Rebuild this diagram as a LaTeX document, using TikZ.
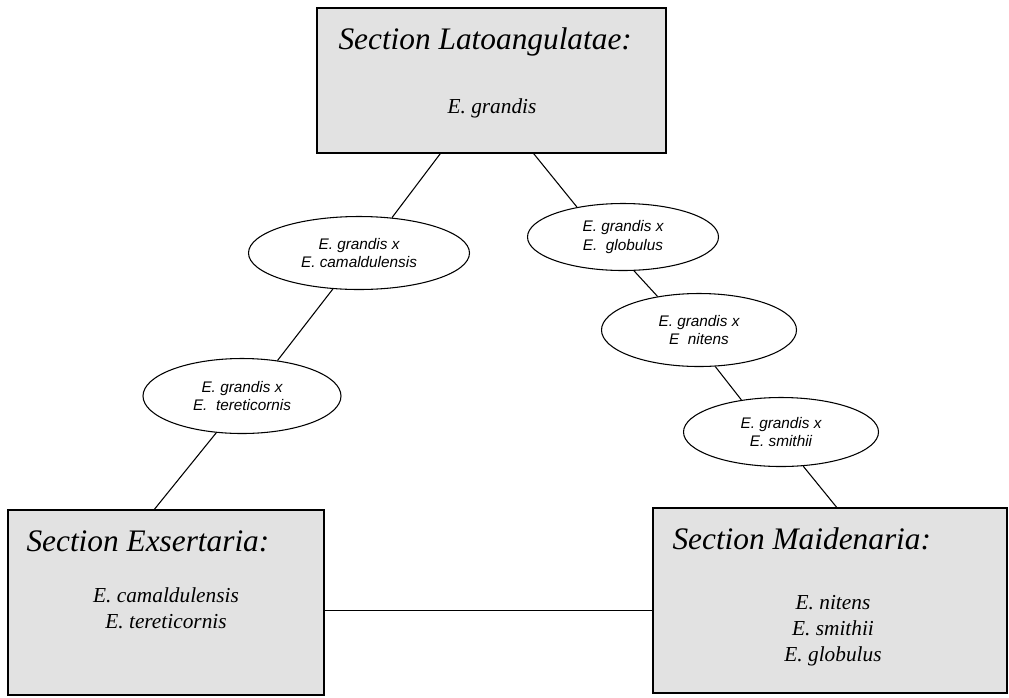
\documentclass[tikz,border=0pt]{standalone}
\usepackage{fontspec}
\setmainfont{Liberation Serif}
\setsansfont{Liberation Sans}
\usepackage{tikz}
\usetikzlibrary{shapes,arrows}
\usetikzlibrary{positioning}
\usetikzlibrary{calc}
\definecolor{boxgray}{RGB}{226,226,226}
\newcommand\hybtext[1]{E. grandis x\\#1}
\newcommand\hybnode[4][]{%
  \node[hybrid,#1,minimum width=#2] (#3) {\hybtext{#4}};
}

\begin{document}
\begin{tikzpicture}[x=0.75pt, y=-0.75pt,
line width=0.8pt,
hybrid/.style={
  ellipse,
  draw,
  inner sep=0pt,
  align=center,
  font=\sffamily\itshape\fontsize{11.5}{14}\selectfont},
section/.style={
  rectangle,
  draw,
  line width=1.3pt,
  fill=boxgray,
  inner sep=0pt},
sectitle/.style={
  anchor=base west,
  inner sep=0pt,
  font=\itshape\fontsize{23.5}{28}\selectfont},
sectlist/.style={
  align=center,
  inner sep=0pt,
  font=\itshape\fontsize{16}{19.5}\selectfont}
]
\useasboundingbox (0,0) rectangle (1009,697);

% sections
\node[section,minimum width=261.75pt,minimum height=108.75pt] (latoang) at (491.5,80.5) {};
\node[section,minimum width=237pt,minimum height=138.75pt] (exs) at (166,602.5) {};
\node[section,minimum width=265.5pt,minimum height=138.75pt] (mai) at (830,600.5) {};

\node[sectitle] (latoangtitle) at (338,49) {Section Latoangulatae:};
\node[sectlist] (latoanglist) at (492,108) {E. grandis};
\node[sectitle] (exstitle) at (26,551) {Section Exsertaria:};
\node[sectlist] (exslist) at (166,608) {E. camaldulensis\\E. tereticornis};
\node[sectitle] (maititle) at (672,549) {Section Maidenaria:};
\node[sectlist] (mailist) at (833,631) {E. nitens\\E. smithii\\E. globulus};

% hybrids
\hybnode[at={(359,253)},minimum height=54.75pt]{165.75pt}{cam}{E. camaldulensis}
\hybnode[at={(242,396)},minimum height=56.25pt]{148.5pt}{ter}{E.\ \ tereticornis}
\hybnode[at={(623,237)},minimum height=50.25pt]{143.25pt}{glob}{E.\ \ globulus}
\hybnode[at={(699,330)},minimum height=54.75pt]{146.25pt}{nit}{E\ \ nitens}
\hybnode[at={(781,432)},minimum height=51.75pt]{146.25pt}{smi}{E. smithii}

\draw (latoang.-125) -- (cam.47);
\draw (cam.-126) -- (ter.45);
\draw (ter.-125) -- (exs.97);
\draw (latoang.-60) -- (glob.147);
\draw (glob.-72) -- (nit.141);
\draw (nit.-66) -- (smi.141);
\draw (smi.-57) -- (mai.86);
\draw (exs.-3) -- (exs.-3 -| mai.west);

\end{tikzpicture}
\end{document}
